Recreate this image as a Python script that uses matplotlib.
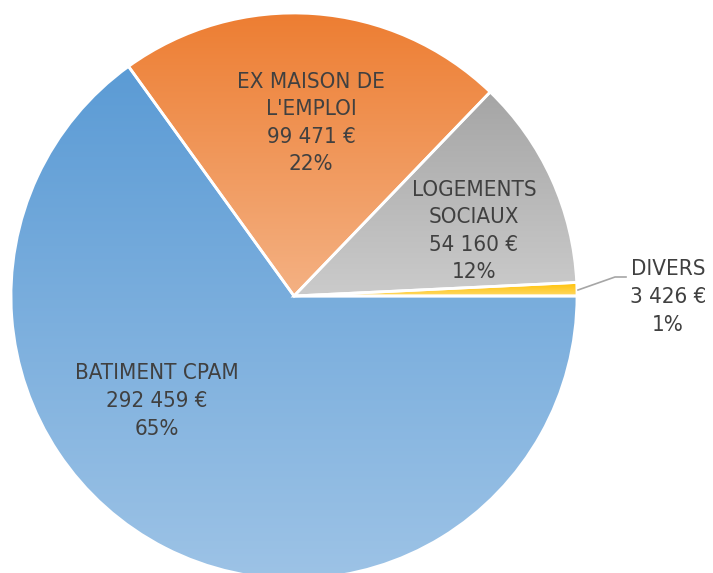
import numpy as np
import matplotlib
matplotlib.use("Agg")
import matplotlib.pyplot as plt
from matplotlib.colors import LinearSegmentedColormap

categories = ["BATIMENT CPAM", "EX MAISON DE\nL'EMPLOI", "LOGEMENTS\nSOCIAUX", "DIVERS"]
values = [292459, 99471, 54160, 3426]
value_labels = ["292 459 €", "99 471 €", "54 160 €", "3 426 €"]
top_colors = ["#5B9BD5", "#ED7D31", "#A5A5A5", "#FFC000"]
bottom_colors = ["#9DC3E6", "#F4B183", "#CBCBCB", "#FFD966"]

W, H = 713, 573
fig = plt.figure(figsize=(W / 100, H / 100), dpi=100)
ax = fig.add_axes([0, 0, 1, 1])
R = 283.0
cx, cy = 294.0, 296.0
ax.set_xlim(-cx / R, (W - cx) / R)
ax.set_ylim(-(H - cy) / R, cy / R)
ax.set_aspect("equal")
ax.axis("off")

wedges, _ = ax.pie(values, startangle=0, counterclock=False, radius=1,
                   wedgeprops=dict(facecolor="none", edgecolor="white", linewidth=2))

total = sum(values)
for w, c1, c2 in zip(wedges, top_colors, bottom_colors):
    path = w.get_path()
    verts = w.get_transform().transform_path(path)
    inv = ax.transData.inverted()
    pts = inv.transform(verts.vertices)
    x0, x1 = pts[:, 0].min(), pts[:, 0].max()
    y0, y1 = pts[:, 1].min(), pts[:, 1].max()
    cmap = LinearSegmentedColormap.from_list("g", [c2, c1])
    grad = np.linspace(0, 1, 256).reshape(-1, 1)
    im = ax.imshow(grad, extent=(x0, x1, y0, y1), origin="lower", cmap=cmap,
                   aspect="auto", zorder=1, interpolation="bilinear")
    im.set_clip_path(w)
    w.set_zorder(2)

ax.set_xlim(-cx / R, (W - cx) / R)
ax.set_ylim(-(H - cy) / R, cy / R)

def px(x, y):
    return ((x - cx) / R, (cy - y) / R)

label_pos = [(157, 401), (311, 123), (474, 231), (668, 297)]
for cat, vl, v, (lx, ly) in zip(categories, value_labels, values, label_pos):
    pct = f"{round(100 * v / total)}%"
    txt = f"{cat}\n{vl}\n{pct}"
    x, y = px(lx, ly)
    ax.text(x, y, txt, ha="center", va="center", fontsize=16,
            color="#404040", family="DejaVu Sans", fontstretch="condensed",
            linespacing=1.47, zorder=5)

# leader line for DIVERS
lx = [px(578, 290)[0], px(615, 277)[0], px(626, 277)[0]]
ly = [px(578, 290)[1], px(615, 277)[1], px(626, 277)[1]]
ax.plot(lx, ly, color="#A6A6A6", linewidth=1.2, zorder=4)

fig.savefig("out.png", dpi=100)
